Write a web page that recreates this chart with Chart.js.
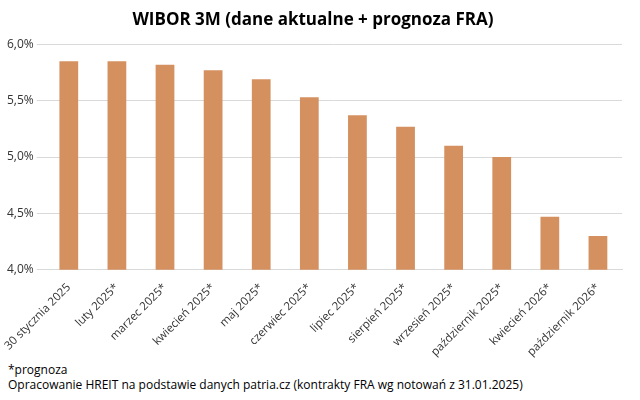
<!DOCTYPE html>
<html><head><meta charset="utf-8">
<script src="https://cdn.jsdelivr.net/npm/chart.js@4"></script>
<style>
body{margin:0;background:#fff;font-family:"Open Sans",Arial,sans-serif;}
#wrap{width:640px;height:362px;position:relative;}
.note{font-size:12px;color:#000;margin-left:8px;line-height:15px;}
</style></head><body>
<div id="wrap"><canvas id="c"></canvas></div>
<div class="note">*prognoza</div>
<div class="note">Opracowanie HREIT na podstawie danych patria.cz (kontrakty FRA wg notowań z 31.01.2025)</div>
<script>
const categories = ["30 stycznia 2025","luty 2025*","marzec 2025*","kwiecień 2025*","maj 2025*","czerwiec 2025*","lipiec 2025*","sierpień 2025*","wrzesień 2025*","październik 2025*","kwiecień 2026*","październik 2026*"];
const wibor = [5.85,5.85,5.82,5.77,5.69,5.53,5.37,5.27,5.10,5.00,4.47,4.30];

new Chart(document.getElementById("c"), {
  type: "bar",
  data: { labels: categories, datasets: [{ data: wibor, backgroundColor: "#D4915F", barPercentage: 0.78, categoryPercentage: 0.5 }] },
  options: {
    responsive: true, maintainAspectRatio: false, animation: false,
    layout: { padding: { left: 4, right: 18, top: 4, bottom: 0 } },
    plugins: {
      legend: { display: false },
      title: { display: true, text: "WIBOR 3M (dane aktualne + prognoza FRA)", color: "#000",
        font: { family: "Open Sans", size: 17, weight: "bold" }, padding: { top: 6, bottom: 14 } },
      tooltip: { enabled: false }
    },
    scales: {
      y: { min: 4, max: 6, ticks: { stepSize: 0.5, color: "#333", font: { family: "Open Sans", size: 12 },
            callback: v => v.toFixed(1).replace(".", ",") + "%" },
           grid: { color: "#d9d9d9" }, border: { display: false } },
      x: { ticks: { color: "#333", font: { family: "Open Sans", size: 11.5 }, maxRotation: 45, minRotation: 45 },
           grid: { display: false }, border: { color: "#d9d9d9" } }
    }
  }
});
</script>
</body></html>
